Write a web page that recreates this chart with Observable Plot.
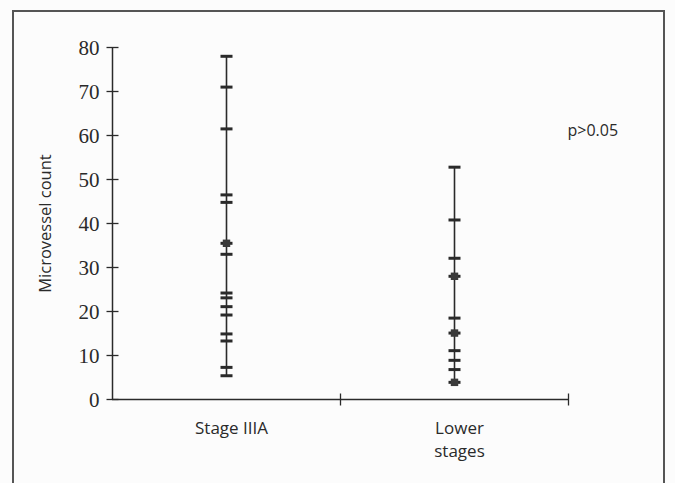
<!DOCTYPE html>
<html>
<head>
<meta charset="utf-8">
<script src="https://cdn.jsdelivr.net/npm/d3@7"></script>
<script src="https://cdn.jsdelivr.net/npm/@observablehq/plot@0.6"></script>
<style>
  html, body { margin: 0; padding: 0; background: #fcfcfc; }
  #wrap { position: relative; width: 675px; height: 483px; overflow: hidden; }
  #frame { position: absolute; left: 12px; top: 10px; width: 653px; height: 500px;
           border: 2px solid #555; border-bottom: none; box-sizing: border-box; }
  #chart { position: absolute; left: 0; top: 0; }
</style>
</head>
<body>
<div id="wrap"><div id="frame"></div><div id="chart"></div></div>
<script>
// ---- data ----
const categories = ["Stage IIIA", "Lower stages"];
const stageIIIA = [78, 71, 61.5, 46.5, 44.8, 35.5, 33, 24.2, 23.1, 21.1, 19.2, 14.9, 13.3, 7.3, 5.4];
const stageIIIASquares = [35.5];
const lowerStages = [52.8, 40.8, 32.1, 28, 18.5, 15.1, 11.1, 8.9, 6.8, 3.9];
const lowerStagesSquares = [28, 15.1, 3.9];
const yTicks = [0, 10, 20, 30, 40, 50, 60, 70, 80];
const xBoundaries = [1, 2];
const yLabel = "Microvessel count";
const pText = "p>0.05";

// ---- build tables ----
const series = [stageIIIA, lowerStages];
const squares = [stageIIIASquares, lowerStagesSquares];
const points = series.flatMap((vals, i) => vals.map(v => ({pos: i + 0.5, value: v})));
const sqPoints = squares.flatMap((vals, i) => vals.map(v => ({pos: i + 0.5, value: v})));
const spans = series.map((vals, i) => ({pos: i + 0.5, lo: d3.min(vals), hi: d3.max(vals)}));
const labels = categories.map((c, i) => ({pos: i + 0.5, text: i === 1 ? c.replace(" ", "\n") : c}));

const hDash = {draw(ctx, size) { const r = Math.sqrt(size / Math.PI); ctx.moveTo(-r, 0); ctx.lineTo(r, 0); }};
const vDash = {draw(ctx, size) { const r = Math.sqrt(size / Math.PI); ctx.moveTo(0, -r); ctx.lineTo(0, r); }};

const ink = "#2a2a2a";
const chart = Plot.plot({
  width: 675,
  height: 483,
  marginLeft: 112,
  marginRight: 107,
  marginTop: 47,
  marginBottom: 84,
  style: {background: "transparent", color: ink},
  x: {domain: [0, 2], axis: null},
  y: {domain: [0, 80], axis: null},
  marks: [
    // axes lines
    Plot.ruleX([0], {stroke: ink, strokeWidth: 1.5}),
    Plot.ruleY([0], {stroke: ink, strokeWidth: 1.5}),
    // y ticks crossing the axis
    Plot.dot(yTicks, {x: () => 0, y: d => d, symbol: hDash, r: 6, stroke: ink, strokeWidth: 1.3, fill: "none"}),
    Plot.text(yTicks, {x: () => 0, y: d => d, text: d => String(d), textAnchor: "end", dx: -13, dy: 1,
      fontFamily: "Liberation Serif", fontSize: 21, fill: ink}),
    // x boundary ticks
    Plot.dot(xBoundaries, {x: d => d, y: () => 0, symbol: vDash, r: 6, stroke: ink, strokeWidth: 1.3, fill: "none"}),
    // category labels
    Plot.text(labels, {x: "pos", y: () => 0, text: "text", dy: 18, dx: 5, lineAnchor: "top", lineHeight: 1.35,
      fontFamily: "Open Sans", fontSize: 17, fill: ink}),
    // vertical range lines
    Plot.ruleX(spans, {x: "pos", y1: "lo", y2: "hi", stroke: ink, strokeWidth: 1.6}),
    // individual values as dashes
    Plot.dot(points, {x: "pos", y: "value", symbol: hDash, r: 6, stroke: ink, strokeWidth: 3, fill: "none"}),
    // overlapping values as squares
    Plot.dot(sqPoints, {x: "pos", y: "value", symbol: "square", r: 4.2, fill: "#3a3a3a", stroke: "none"}),
    // p value annotation
    Plot.text([pText], {x: () => 2, y: () => 61, text: d => d, textAnchor: "start", dx: -1,
      fontFamily: "Open Sans", fontSize: 16, fill: ink}),
    // y axis label
    Plot.text([yLabel], {x: () => 0, y: () => 40, text: d => d, rotate: -90, dx: -67,
      fontFamily: "Open Sans", fontSize: 16.5, fill: ink})
  ]
});
document.getElementById("chart").appendChild(chart);
</script>
</body>
</html>
